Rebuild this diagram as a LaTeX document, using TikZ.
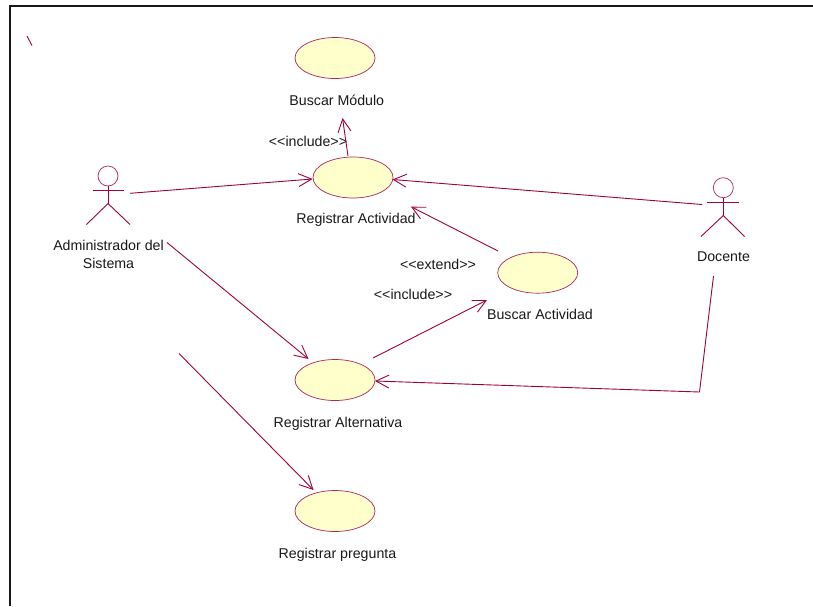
\documentclass[tikz,border=0pt]{standalone}
\usepackage{fontspec}
\setmainfont{Liberation Sans}
\usetikzlibrary{arrows.meta,shapes.geometric}
\definecolor{umlline}{HTML}{A00040}
\definecolor{umlfill}{HTML}{FFFFCC}
\tikzset{
  usecase/.style={ellipse,draw=umlline!85,fill=umlfill,line width=0.7pt,minimum width=80pt,minimum height=41pt,inner sep=0pt},
  lbl/.style={font=\fontsize{14.2}{17.6}\selectfont,text=black!90,align=center,inner sep=0pt},
  actorline/.style={draw=umlline,line width=0.9pt},
  conn/.style={draw=umlline,line width=0.9pt},
  assoc/.style={conn,-{Straight Barb[length=13pt,width=13pt,line width=0.9pt]}},
  frameline/.style={draw=black!90,line width=2pt}
}
\begin{document}
\begin{tikzpicture}[x=1pt,y=-1pt]
\useasboundingbox (0,0) rectangle (813,606);
\fill[white] (0,0) rectangle (813,606);
\coordinate (frameA) at (9.5,606);
\coordinate (frameB) at (9.5,6);
\coordinate (frameC) at (813,6);
\draw[frameline] (frameA) -- (frameB) -- (frameC);
% use cases
\node[usecase] (modulo) at (335,58) {};
\node[usecase] (actividad) at (353,177.5) {};
\node[usecase] (buscar) at (537.7,272.7) {};
\node[usecase] (alternativa) at (335,380) {};
\node[usecase] (pregunta) at (335,511) {};
\node[lbl] (tmodulo) at (336.8,100.5) {Buscar Módulo};
\node[lbl] (tactividad) at (356,220) {Registrar Actividad};
\node[lbl] (tbuscar) at (540,314) {Buscar Actividad};
\node[lbl] (talternativa) at (338,423.5) {Registrar Alternativa};
\node[lbl] (tpregunta) at (337.5,554.5) {Registrar pregunta};
\node[lbl] (tinc1) at (308,141.5) {<{}<include>{}>};
\node[lbl] (text) at (438,264.5) {<{}<extend>{}>};
\node[lbl] (tinc2) at (413,294) {<{}<include>{}>};
% actor left
\node[circle,draw=umlline!85,line width=0.7pt,minimum size=20pt,inner sep=0pt] (headA) at (108,176) {};
\coordinate (armAl) at (92.5,190.7);
\coordinate (armAr) at (124,190.7);
\coordinate (hipA) at (108,203.5);
\coordinate (legAl) at (86.5,224.5);
\coordinate (legAr) at (130,224.5);
\draw[actorline] (armAl) -- (armAr);
\draw[actorline] (headA.south) -- (hipA);
\draw[actorline] (legAl) -- (hipA) -- (legAr);
\node[lbl] (tadmin) at (108.5,254.5) {Administrador del\\Sistema};
% actor right
\node[circle,draw=umlline!85,line width=0.7pt,minimum size=20pt,inner sep=0pt] (headB) at (723.3,187.7) {};
\coordinate (armBl) at (707,202.3);
\coordinate (armBr) at (738.7,202.3);
\coordinate (hipB) at (723.3,215.5);
\coordinate (legBl) at (701,236.5);
\coordinate (legBr) at (744.5,236.5);
\draw[actorline] (armBl) -- (armBr);
\draw[actorline] (headB.south) -- (hipB);
\draw[actorline] (legBl) -- (hipB) -- (legBr);
\node[lbl] (tdocente) at (723.5,257) {Docente};
% connector ends
\coordinate (a1) at (130,193.3);
\coordinate (a2) at (167,242.5);
\coordinate (a3) at (179,353.5);
\coordinate (d1) at (702,204.5);
\coordinate (d2) at (713.5,276);
\coordinate (d3) at (699.5,392);
\coordinate (inc1s) at (348,156);
\coordinate (inc1e) at (342.5,118);
\coordinate (exts) at (498,251);
\coordinate (exte) at (411,206.7);
\coordinate (inc2s) at (373,358);
\coordinate (inc2e) at (487,300);
\coordinate (altIn) at (308.5,359);
\coordinate (pregIn) at (313.5,490);
\coordinate (actIn) at (312.5,179);
\coordinate (actInR) at (392.5,179.5);
\coordinate (altInR) at (375,381);
\coordinate (tickA) at (27,36);
\coordinate (tickB) at (32,45.5);
\draw[assoc] (a1) -- (actIn);
\draw[assoc] (d1) -- (actInR);
\draw[assoc] (inc1s) -- (inc1e);
\draw[assoc] (exts) -- (exte);
\draw[assoc] (inc2s) -- (inc2e);
\draw[assoc] (a2) -- (altIn);
\draw[assoc] (a3) -- (pregIn);
\draw[assoc] (d2) -- (d3) -- (altInR);
\draw[conn] (tickA) -- (tickB);
\end{tikzpicture}
\end{document}
